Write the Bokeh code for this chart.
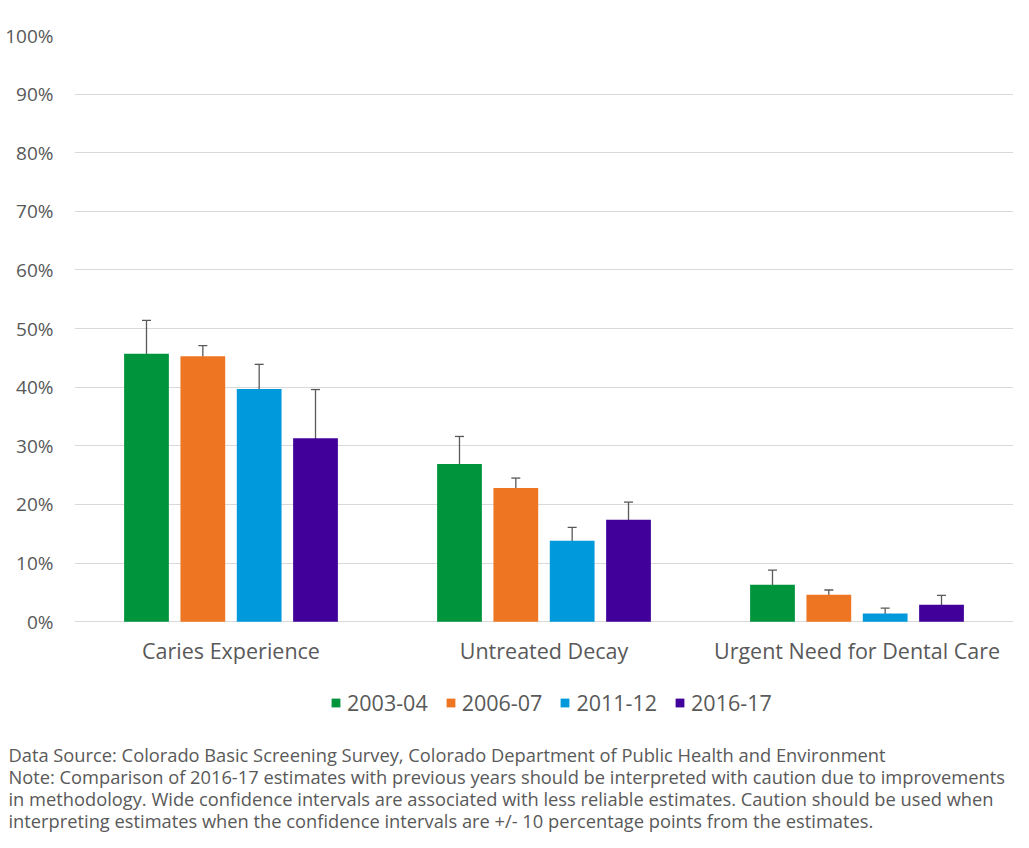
from bokeh.plotting import figure
from bokeh.models import (ColumnDataSource, Range1d, FixedTicker, PrintfTickFormatter,
                          Whisker, TeeHead, Legend, LegendItem, Title)
from bokeh.core.properties import value
from bokeh.transform import dodge
from bokeh.embed import file_html
from bokeh.resources import INLINE

categories = ["Caries Experience", "Untreated Decay", "Urgent Need for Dental Care"]
years = ["2003-04", "2006-07", "2011-12", "2016-17"]
colors = ["#00943C", "#EE7623", "#009ADC", "#42009A"]

est_2003_04 = [45.7, 26.9, 6.3]
lo_2003_04 = [40.3, 22.1, 3.9]
hi_2003_04 = [51.4, 31.6, 8.8]

est_2006_07 = [45.3, 22.8, 4.6]
lo_2006_07 = [43.6, 21.4, 3.9]
hi_2006_07 = [47.1, 24.5, 5.4]

est_2011_12 = [39.7, 13.8, 1.4]
lo_2011_12 = [35.6, 11.4, 0.6]
hi_2011_12 = [43.9, 16.1, 2.3]

est_2016_17 = [31.3, 17.4, 2.9]
lo_2016_17 = [23.1, 14.6, 1.5]
hi_2016_17 = [39.6, 20.4, 4.5]

y_ticks = [0, 10, 20, 30, 40, 50, 60, 70, 80, 90, 100]

footnote = [
    "Data Source: Colorado Basic Screening Survey, Colorado Department of Public Health and Environment",
    "Note: Comparison of 2016-17 estimates with previous years should be interpreted with caution due to improvements",
    "in methodology. Wide confidence intervals are associated with less reliable estimates. Caution should be used when",
    "interpreting estimates when the confidence intervals are +/- 10 percentage points from the estimates.",
]

series = [
    (est_2003_04, lo_2003_04, hi_2003_04),
    (est_2006_07, lo_2006_07, hi_2006_07),
    (est_2011_12, lo_2011_12, hi_2011_12),
    (est_2016_17, lo_2016_17, hi_2016_17),
]

TXT = "#595959"
FONT = "Open Sans"

# frame: top at 35px, 0% at ~622px, frame continues down to ~739px to host labels + legend
p = figure(width=1013, height=832, output_backend="svg", toolbar_location=None,
           x_range=Range1d(0, 3), y_range=Range1d(-20.1, 100),
           min_border_left=74, min_border_right=0, min_border_top=35, min_border_bottom=88)
p.outline_line_color = None
p.background_fill_color = "white"
p.border_fill_color = "white"

centers = [i + 0.5 for i in range(len(categories))]
offsets = [-0.27, -0.09, 0.09, 0.27]
bar_w = 0.143

items = []
for (est, lo, hi), yr, col, off in zip(series, years, colors, offsets):
    src = ColumnDataSource(dict(x=centers, est=est, lo=lo, hi=hi))
    r = p.vbar(x=dodge("x", off, range=p.x_range), top="est", width=bar_w, bottom=0,
               source=src, fill_color=col, line_color=None)
    w = Whisker(source=src, base=dodge("x", off, range=p.x_range), upper="hi", lower="lo",
                line_color="#595959", line_width=1.3,
                upper_head=TeeHead(size=9, line_color="#595959", line_width=1.3),
                lower_head=TeeHead(size=9, line_color="#595959", line_width=1.3))
    p.add_layout(w)
    items.append(LegendItem(label=yr, renderers=[r]))

# category labels under the baseline
cat_src = ColumnDataSource(dict(x=centers, y=[0] * len(centers), text=categories))
p.text(x="x", y="y", text="text", source=cat_src, y_offset=29,
       text_align="center", text_baseline="middle",
       text_font=value(FONT), text_font_size="21.5px", text_color=TXT)

p.xaxis.visible = False
p.xgrid.visible = False
p.ygrid.grid_line_color = "#D9D9D9"
p.ygrid.grid_line_width = 1
p.ygrid.ticker = FixedTicker(ticks=y_ticks)

p.yaxis.ticker = FixedTicker(ticks=y_ticks)
p.yaxis.formatter = PrintfTickFormatter(format="%d%%")
p.yaxis.axis_line_color = None
p.yaxis.major_tick_line_color = None
p.yaxis.minor_tick_line_color = None
p.yaxis.major_tick_out = 0
p.yaxis.major_label_standoff = 21
p.yaxis.major_label_text_font = FONT
p.yaxis.major_label_text_font_size = "19px"
p.yaxis.major_label_text_color = TXT

legend = Legend(items=items, orientation="horizontal", location=(256, 22),
                glyph_width=11, glyph_height=11, label_standoff=6, spacing=17,
                label_text_font=FONT, label_text_font_size="21.5px", label_text_color=TXT,
                border_line_color=None, background_fill_alpha=0, padding=0, margin=0,
                label_height=20)
p.add_layout(legend, "center")

note = Title(text="\n".join(footnote), align="left", offset=-66, standoff=0,
             text_font=FONT, text_font_size="18.3px", text_color=TXT,
             text_font_style="normal", text_line_height=0.88)
p.add_layout(note, "below")

open("out.html", "w").write(file_html(p, INLINE))
